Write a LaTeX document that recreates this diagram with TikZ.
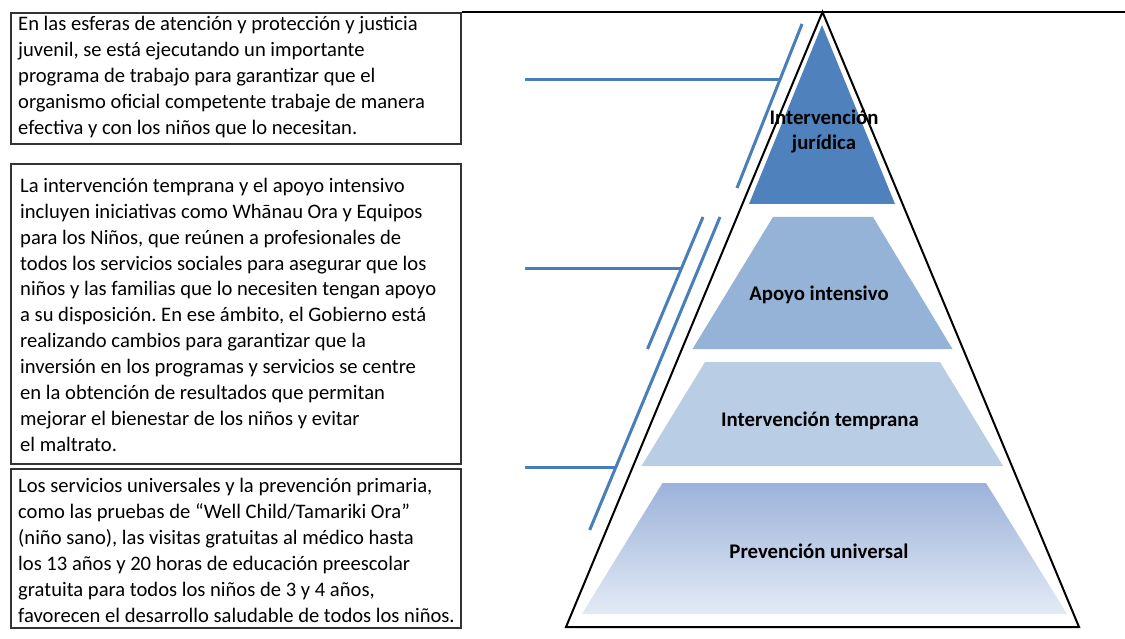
\documentclass[tikz,border=0pt]{standalone}
\usepackage{fontspec}
\setmainfont{Carlito}
\frenchspacing
\definecolor{lvlA}{HTML}{4F81BD}
\definecolor{lvlB}{HTML}{95B3D7}
\definecolor{lvlC}{HTML}{B9CDE5}
\definecolor{lvlDtop}{HTML}{9BB2DA}
\definecolor{lvlDbot}{HTML}{E3EAF5}
\definecolor{lineblue}{HTML}{4A7EBB}
\begin{document}
\begin{tikzpicture}[x=1pt,y=-1pt,
  framebox/.style={draw=black!80, line width=1.6pt, anchor=north west,
    minimum width=450pt, inner sep=0pt},
  boxtext/.style={anchor=west, inner sep=0pt, align=left,
    font=\fontsize{20.6}{25.9}\selectfont},
  lvl/.style={font=\bfseries\fontsize{20.8}{25}\selectfont, align=center, inner sep=0pt},
  blueline/.style={draw=lineblue, line width=3pt}]
\useasboundingbox (0,0) rectangle (1125,639);
\fill[white] (0,0) rectangle (1125,639);

% text boxes
\node[framebox, minimum height=131pt] (b1) at (10,12) {};
\node[framebox, minimum height=300pt] (b2) at (10,163) {};
\node[framebox, minimum height=159pt] (b3) at (10,468) {};

\node[boxtext, xshift=8pt, yshift=1pt] (t1) at (b1.west) {En las esferas de atención y protección y justicia\\
juvenil, se está ejecutando un importante\\
programa de trabajo para garantizar que el\\
organismo oficial competente trabaje de manera\\
efectiva y con los niños que lo necesitan.};
\node[boxtext, xshift=10pt, yshift=-1pt] (t2) at (b2.west) {La intervención temprana y el apoyo intensivo\\
incluyen iniciativas como Whānau Ora y Equipos\\
para los Niños, que reúnen a profesionales de\\
todos los servicios sociales para asegurar que los\\
niños y las familias que lo necesiten tengan apoyo\\
a su disposición. En ese ámbito, el Gobierno está\\
realizando cambios para garantizar que la\\
inversión en los programas y servicios se centre\\
en la obtención de resultados que permitan\\
mejorar el bienestar de los niños y evitar\\
el maltrato.};
\node[boxtext, xshift=8pt, yshift=-2pt] (t3) at (b3.west) {Los servicios universales y la prevención primaria,\\
como las pruebas de “Well Child/Tamariki Ora”\\
(niño sano), las visitas gratuitas al médico hasta\\
los 13 años y 20 horas de educación preescolar\\
gratuita para todos los niños de 3 y 4 años,\\
favorecen el desarrollo saludable de todos los niños.};

% top rule
\coordinate (ruleR) at (1125,12);
\draw[line width=1.5pt] (b1.north east) -- (ruleR);

% pyramid layers
\fill[lvlA] (822,25) -- (895,204) -- (749,204) -- cycle;
\fill[lvlB] (773,217) -- (873,217) -- (952.5,349) -- (692.5,349) -- cycle;
\fill[lvlC] (705,362) -- (940,362) -- (1003,466) -- (641.5,466) -- cycle;
\shade[top color=lvlDtop, bottom color=lvlDbot] (662.5,483) -- (986,483) -- (1067,614) -- (582,614) -- cycle;

% pyramid outline
\coordinate (apex) at (822.5,12);
\coordinate (baseR) at (1079,627);
\coordinate (baseL) at (566,627);
\draw[line width=2pt, line join=miter] (apex) -- (baseR) -- (baseL) -- cycle;

% labels
\node[lvl] (l1) at (824,131) {Intervención\\jurídica};
\node[lvl] (l2) at (819,295) {Apoyo intensivo};
\node[lvl] (l3) at (820,421) {Intervención temprana};
\node[lvl] (l4) at (819,551) {Prevención universal};

% blue brackets
\coordinate (a1) at (802,24);
\coordinate (a2) at (737,188);
\coordinate (ah) at (525,80);
\coordinate (aj) at (779,80);
\draw[blueline] (a1) -- (a2);
\draw[blueline] (ah) -- (aj);

\coordinate (c1) at (703,217);
\coordinate (c2) at (647.5,349);
\coordinate (ch) at (525,269);
\coordinate (cj) at (681,269);
\draw[blueline] (c1) -- (c2);
\draw[blueline] (ch) -- (cj);

\coordinate (d1) at (720,217);
\coordinate (d2) at (589.7,530);
\coordinate (dh) at (525,467);
\coordinate (dj) at (616,467);
\draw[blueline] (d1) -- (d2);
\draw[blueline] (dh) -- (dj);
\end{tikzpicture}
\end{document}
